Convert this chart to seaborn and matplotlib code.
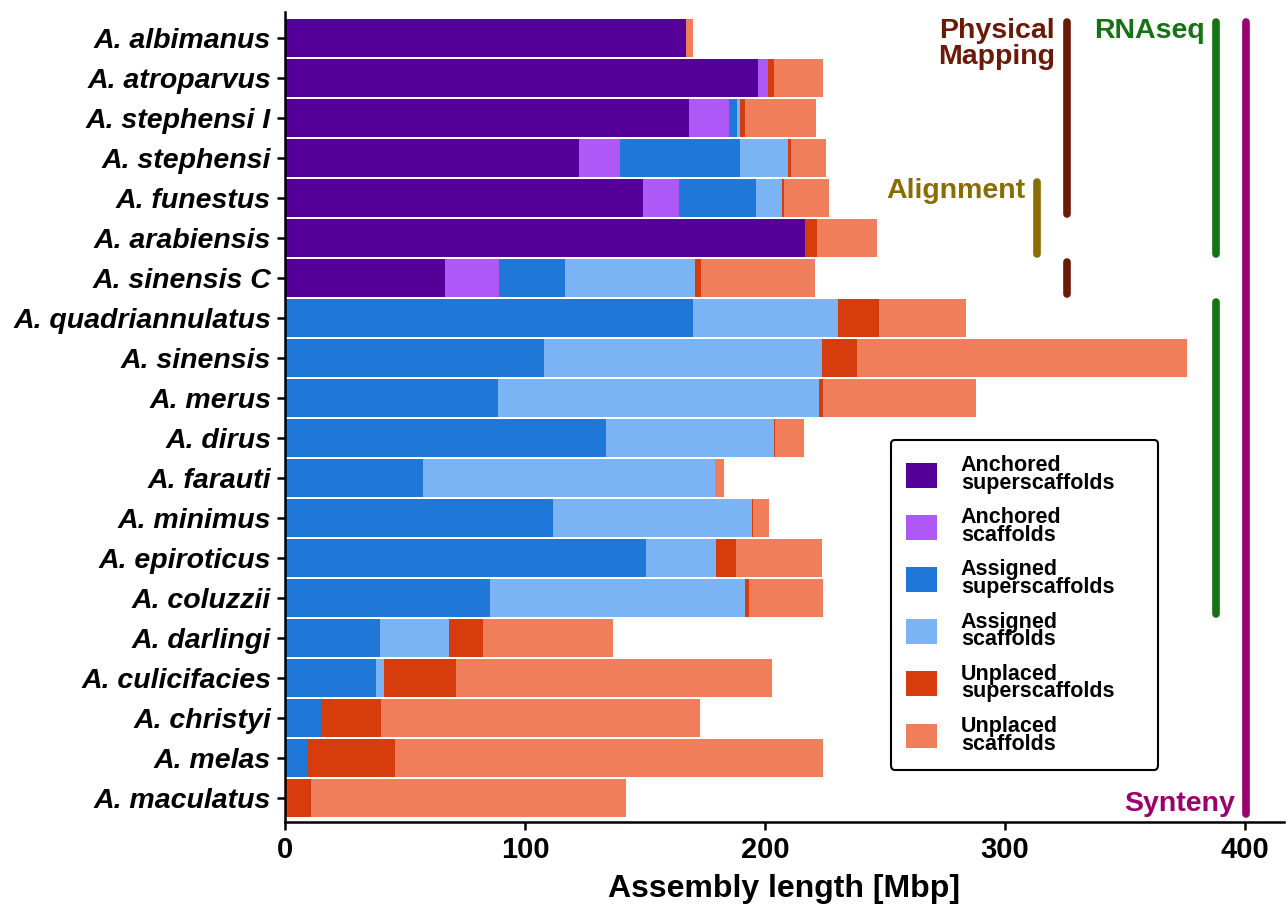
import numpy as np
import pandas as pd
import matplotlib.pyplot as plt
from matplotlib.patches import Patch
import seaborn as sns

# species in top-to-bottom order
species = ['A. albimanus', 'A. atroparvus', 'A. stephensi I', 'A. stephensi', 'A. funestus',
           'A. arabiensis', 'A. sinensis C', 'A. quadriannulatus', 'A. sinensis', 'A. merus',
           'A. dirus', 'A. farauti', 'A. minimus', 'A. epiroticus', 'A. coluzzii',
           'A. darlingi', 'A. culicifacies', 'A. christyi', 'A. melas', 'A. maculatus']

# assembly length per category [Mbp]
anchored_super = [167.3, 197.3, 168.5, 122.6, 149.3, 216.6, 66.8, 0, 0, 0,
                  0, 0, 0, 0, 0, 0, 0, 0, 0, 0]
anchored_scaf = [0, 3.9, 16.6, 17.0, 14.8, 0, 22.4, 0, 0, 0,
                 0, 0, 0, 0, 0, 0, 0, 0, 0, 0]
assigned_super = [0, 0, 3.4, 50.1, 32.2, 0, 27.3, 170.1, 107.9, 88.8,
                  133.8, 57.6, 111.6, 150.4, 85.6, 39.4, 38.0, 15.0, 9.7, 0]
assigned_scaf = [0, 0, 1.1, 19.8, 10.8, 0, 54.5, 60.2, 115.9, 133.7,
                 69.9, 121.6, 83.0, 29.2, 106.2, 29.1, 3.2, 0, 0, 0]
unplaced_super = [0, 2.7, 2.0, 1.5, 0.9, 4.9, 2.2, 17.3, 14.4, 1.9,
                  0.6, 0, 0.6, 8.4, 1.7, 13.9, 30.1, 25.0, 36.2, 10.9]
unplaced_scaf = [2.9, 20.5, 29.8, 14.6, 18.6, 25.1, 47.6, 36.3, 137.6, 63.7,
                 11.9, 3.8, 6.6, 35.7, 30.9, 54.4, 131.8, 132.8, 178.5, 131.2]

layer_names = ['Anchored\nsuperscaffolds', 'Anchored\nscaffolds', 'Assigned\nsuperscaffolds',
               'Assigned\nscaffolds', 'Unplaced\nsuperscaffolds', 'Unplaced\nscaffolds']
layer_colors = ['#540099', '#ad58f7', '#1f77d7', '#7ab4f5', '#d73c0c', '#f17e5a']

# methods used for each species (first and last row of each run)
methods = ['Physical\nMapping', 'Alignment', 'RNAseq', 'Synteny']
method_x = [325.7, 313.3, 388.0, 400.4]
method_runs = [[(0, 4), (6, 6)], [(4, 5)], [(0, 5), (7, 14)], [(0, 19)]]
method_colors = ['#6b1a07', '#8a6d00', '#167212', '#9b006e']


def stacked_bars(ax):
  df = pd.DataFrame(dict(zip(layer_names, [anchored_super, anchored_scaf, assigned_super,
                                           assigned_scaf, unplaced_super, unplaced_scaf])))
  cum = df.cumsum(axis=1)
  # draw the longest stack first, shorter ones go on top
  for name, color in reversed(list(zip(layer_names, layer_colors))):
    sns.barplot(x=cum[name].values, y=species, color=color, saturation=1, width=0.94,
                orient='h', errorbar=None, linewidth=0, ax=ax)


def method_lines(ax):
  for name, x, runs, color in zip(methods, method_x, method_runs, method_colors):
    for start, end in runs:
      ax.plot([x, x], [start - 0.4, end + 0.4], color=color, lw=5.5,
              solid_capstyle='round', zorder=5)
    if name == 'Synteny':
      ax.text(x - 4.5, runs[-1][1] + 0.47, name, color=color, ha='right', va='bottom',
              fontsize=20.5, fontweight='bold')
    else:
      ax.text(x - 4.8, runs[0][0] - 0.5, name, color=color, ha='right', va='top',
              fontsize=20.5, fontweight='bold', linespacing=1.0)


sns.set_style('ticks')
plt.rcParams['font.family'] = ['Liberation Sans', 'DejaVu Sans']
plt.rcParams['text.color'] = 'black'
plt.rcParams['axes.labelcolor'] = 'black'
plt.rcParams['xtick.color'] = 'black'
plt.rcParams['ytick.color'] = 'black'

fig = plt.figure(figsize=(12.87, 9.05), dpi=100)
ax = fig.add_axes([285 / 1287, 1 - 822 / 905, 999 / 1287, 810 / 905])

stacked_bars(ax)
method_lines(ax)

ax.set_xlim(0, 416.3)
ax.set_ylim(19.6, -0.65)
ax.set_xticks([0, 100, 200, 300, 400])
ax.set_ylabel('')
ax.set_xlabel('Assembly length [Mbp]', fontsize=23, fontweight='bold', labelpad=7)
ax.tick_params(axis='x', labelsize=21, width=1.8, length=6, color='black', pad=4)
ax.tick_params(axis='y', labelsize=20.5, width=1.8, length=6, color='black', pad=4)
for lab in ax.get_xticklabels():
  lab.set_fontweight('bold')
for lab in ax.get_yticklabels():
  lab.set_fontweight('bold')
  lab.set_fontstyle('italic')
sns.despine(ax=ax)
for side in ['left', 'bottom']:
  ax.spines[side].set_linewidth(1.8)
  ax.spines[side].set_color('black')

handles = [Patch(facecolor=c, edgecolor='none') for c in layer_colors]
leg = ax.legend(handles, layer_names, loc='upper left', mode='expand',
                bbox_to_anchor=(891 / 1287, 1 - 765 / 905, 267 / 1287, 325 / 905),
                bbox_transform=fig.transFigure, borderaxespad=0, frameon=True, fancybox=True,
                framealpha=1, edgecolor='black', handlelength=1.45, handleheight=1.4,
                handletextpad=1.1, borderpad=0.7, labelspacing=0.62,
                prop={'size': 15.5, 'weight': 'bold'})
leg.get_frame().set_linewidth(1.5)
for t in leg.get_texts():
  t.set_linespacing(0.8)

fig.savefig('out.png', dpi=100)
